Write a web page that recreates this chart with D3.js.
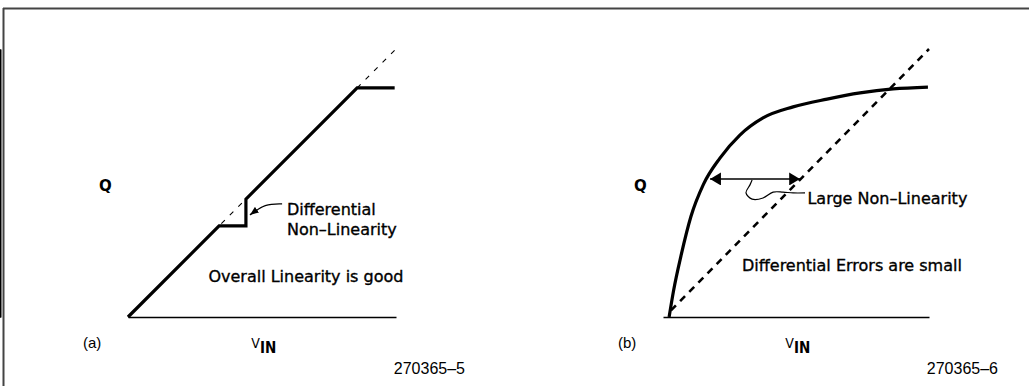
<!DOCTYPE html>
<html>
<head>
<meta charset="utf-8">
<script src="https://cdn.jsdelivr.net/npm/d3@7"></script>
<style>
    html, body { margin: 0; padding: 0; background: #fff; overflow: hidden; }
    svg { display: block; }
    text { font-family: "DejaVu Sans", sans-serif; fill: #000; }
    .cap { font-family: "Liberation Sans", Arial, sans-serif; }
    .note { stroke: #000; stroke-width: 0.35px; }
</style>
</head>
<body>
<div id="chart"></div>
<script>
// (a) mostly linear transfer with one missing code step
const linearA = [[0, 0], [3.4, 3.4], [4.4, 3.4], [4.4, 4.4], [8.55, 8.55], [9.95, 8.55]];
const idealA = [[0, 0], [10, 10]];
const leaderA = [[5.75, 4.22], [5.11, 4.22], [4.55, 3.81]];

// (b) smooth but strongly bent transfer
const curveB = [[0.23, 0], [0.4, 1.0], [0.68, 2.3], [1.05, 3.75], [1.52, 4.95], [2.14, 5.93],
                [2.89, 6.79], [3.76, 7.43], [4.89, 7.84], [6.17, 8.13], [7.41, 8.36],
                [8.65, 8.51], [9.96, 8.58]];
const idealB = [[0.3, 0.25], [10, 10]];
const spanB = [[1.77, 5.15], [5.15, 5.15]];
const squiggleB = [[3.35, 5.11], [3.27, 4.93], [3.12, 4.63], [3.35, 4.4], [3.76, 4.44],
                   [4.14, 4.66], [4.51, 4.66], [4.89, 4.63], [5.34, 4.63]];

const notesA = [
    { text: 'Differential', x: 5.93, y: 3.8 },
    { text: 'Non\u2013Linearity', x: 5.93, y: 3.06 },
    { text: 'Overall Linearity is good', x: 3.0, y: 1.3 }
];
const notesB = [
    { text: 'Large Non\u2013Linearity', x: 5.43, y: 4.22 },
    { text: 'Differential Errors are small', x: 2.97, y: 1.7 }
];
const panelLabels = ['(a)', '(b)'];
const figureIds = ['270365\u20135', '270365\u20136'];

const width = 1029, height = 386;

const svg = d3.select('#chart')
    .append('svg')
    .attr('width', width)
    .attr('height', height);

const defs = svg.append('defs');
defs.append('marker')
    .attr('id', 'head-big')
    .attr('viewBox', '0 0 10 12')
    .attr('refX', 10).attr('refY', 6)
    .attr('markerUnits', 'userSpaceOnUse')
    .attr('markerWidth', 11).attr('markerHeight', 13)
    .attr('orient', 'auto-start-reverse')
    .append('path')
    .attr('d', 'M0,0 L10,6 L0,12 Z');
defs.append('marker')
    .attr('id', 'head-small')
    .attr('viewBox', '0 0 10 8')
    .attr('refX', 10).attr('refY', 4)
    .attr('markerUnits', 'userSpaceOnUse')
    .attr('markerWidth', 9).attr('markerHeight', 7)
    .attr('orient', 'auto')
    .append('path')
    .attr('d', 'M0,0 L10,4 L0,8 Z');

// frame (top and left edges only)
svg.append('line')
    .attr('x1', 3).attr('x2', width).attr('y1', 8.5).attr('y2', 8.5)
    .attr('stroke', '#444').attr('stroke-width', 2);
svg.append('line')
    .attr('x1', 3.5).attr('x2', 3.5).attr('y1', 8).attr('y2', height)
    .attr('stroke', '#444').attr('stroke-width', 2);

function drawPanel(x0, x1, label, figId) {
    const xScale = d3.scaleLinear().domain([0, 10]).range([x0, x1]);
    const yScale = d3.scaleLinear().domain([0, 10]).range([317, 49]);
    const g = svg.append('g');

    g.append('g')
        .call(d3.axisLeft(yScale).tickValues([]).tickSizeOuter(0))
        .call(a => a.select('.domain').attr('stroke-width', 1.6));
    g.append('g')
        .attr('transform', `translate(0, ${yScale(0)})`)
        .call(d3.axisBottom(xScale).tickValues([]).tickSizeOuter(0))
        .call(a => a.select('.domain').attr('stroke-width', 1.6));

    g.append('text')
        .attr('x', x0 - 29).attr('y', 191)
        .style('font-size', '15px').style('font-weight', 'bold')
        .text('Q');

    const vin = g.append('text')
        .attr('x', xScale(4.6)).attr('y', 348)
        .style('font-family', '"DejaVu Sans Condensed", "DejaVu Sans", sans-serif')
        .style('font-size', '14px');
    vin.append('tspan').text('V');
    vin.append('tspan').attr('dy', 5).style('font-weight', 'bold').style('font-size', '15px').text('IN');

    g.append('text')
        .attr('class', 'cap')
        .attr('x', x0 - 45).attr('y', 348)
        .style('font-size', '15px')
        .text(label);
    g.append('text')
        .attr('class', 'cap')
        .attr('x', xScale(10) + 69).attr('y', 374)
        .attr('text-anchor', 'end')
        .style('font-size', '16px')
        .text(figId);

    return { g, xScale, yScale };
}

function notes(p, list) {
    p.g.selectAll(null)
        .data(list)
        .enter()
        .append('text')
        .attr('class', 'note')
        .attr('x', d => p.xScale(d.x))
        .attr('y', d => p.yScale(d.y))
        .style('font-size', '16px')
        .text(d => d.text);
}

// panel (a)
const pa = drawPanel(128, 396, panelLabels[0], figureIds[0]);
const lineA = d3.line().x(d => pa.xScale(d[0])).y(d => pa.yScale(d[1]));
pa.g.append('path')
    .attr('d', lineA(idealA))
    .attr('fill', 'none').attr('stroke', '#000')
    .attr('stroke-width', 1.1).attr('stroke-dasharray', '5,7');
pa.g.append('path')
    .attr('d', lineA(linearA))
    .attr('fill', 'none').attr('stroke', '#000')
    .attr('stroke-width', 3.2).attr('stroke-linejoin', 'miter');
pa.g.append('path')
    .attr('d', lineA.curve(d3.curveBasis)(leaderA))
    .attr('fill', 'none').attr('stroke', '#000')
    .attr('stroke-width', 1.3)
    .attr('marker-end', 'url(#head-small)');
notes(pa, notesA);

// panel (b)
const pb = drawPanel(663, 929, panelLabels[1], figureIds[1]);
const lineB = d3.line().x(d => pb.xScale(d[0])).y(d => pb.yScale(d[1]));
pb.g.append('path')
    .attr('d', lineB(idealB))
    .attr('fill', 'none').attr('stroke', '#000')
    .attr('stroke-width', 2.6).attr('stroke-dasharray', '7,6');
pb.g.append('path')
    .attr('d', lineB.curve(d3.curveMonotoneX)(curveB))
    .attr('fill', 'none').attr('stroke', '#000')
    .attr('stroke-width', 3.2);
pb.g.append('path')
    .attr('d', d3.line().x(d => pb.xScale(d[0])).y(d => pb.yScale(d[1]))(spanB))
    .attr('fill', 'none').attr('stroke', '#000')
    .attr('stroke-width', 1.6)
    .attr('marker-start', 'url(#head-big)')
    .attr('marker-end', 'url(#head-big)');
pb.g.append('path')
    .attr('d', d3.line().x(d => pb.xScale(d[0])).y(d => pb.yScale(d[1]))
        .curve(d3.curveCatmullRom)(squiggleB))
    .attr('fill', 'none').attr('stroke', '#000')
    .attr('stroke-width', 1.2);
notes(pb, notesB);
</script>
</body>
</html>
